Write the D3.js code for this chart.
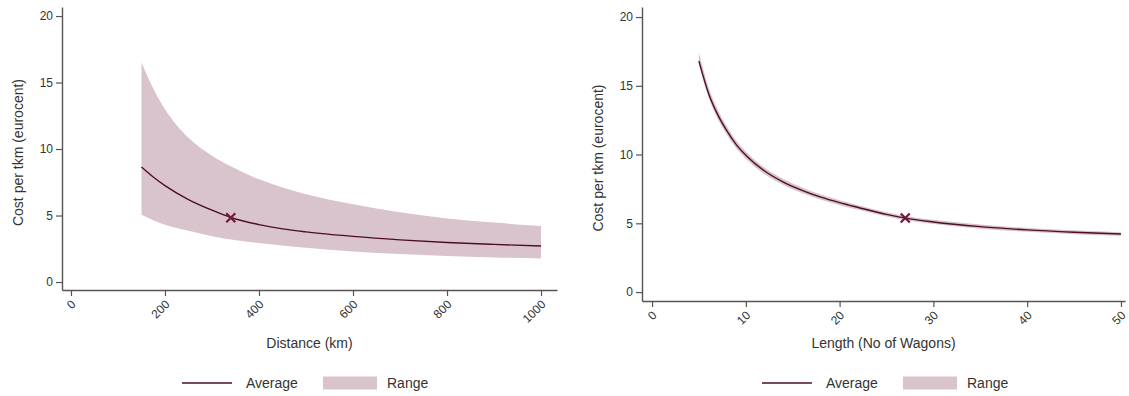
<!DOCTYPE html>
<html>
<head>
<meta charset="utf-8">
<script src="https://cdn.jsdelivr.net/npm/d3@7"></script>
<style>
  html, body { margin: 0; padding: 0; background: #fff; }
  svg { display: block; }
  text { font-family: "Liberation Sans", Arial, sans-serif; fill: #333; }
</style>
</head>
<body>
<svg id="chart" width="1129" height="396"></svg>
<script>
// Cost per tkm by haul distance
const distanceKm     = [150, 175, 200, 250, 300, 340, 400, 450, 500, 600, 700, 800, 900, 1000];
const distanceAvg    = [8.65, 7.9, 7.25, 6.2, 5.4, 4.85, 4.32, 4.0, 3.77, 3.43, 3.17, 2.97, 2.83, 2.71];
const distanceUpper  = [16.5, 14.55, 13.0, 10.85, 9.5, 8.7, 7.72, 7.1, 6.6, 5.85, 5.25, 4.78, 4.47, 4.22];
const distanceLower  = [5.05, 4.65, 4.3, 3.85, 3.45, 3.2, 2.93, 2.75, 2.58, 2.3, 2.1, 1.96, 1.85, 1.77];
const distanceMarker = [340, 4.83];
const distanceTicks  = [0, 200, 400, 600, 800, 1000];

// Cost per tkm by train length
const wagons        = [5, 6, 7, 8, 9, 10, 12, 14, 16, 18, 20, 22, 25, 27, 30, 35, 40, 45, 50];
const wagonsAvg     = [16.8, 14.5, 12.9, 11.7, 10.7, 9.95, 8.8, 8.0, 7.4, 6.9, 6.5, 6.15, 5.65, 5.38, 5.1, 4.76, 4.52, 4.35, 4.22];
const wagonsUpper   = [17.4, 14.95, 13.28, 12.03, 11.0, 10.22, 9.04, 8.22, 7.6, 7.09, 6.68, 6.32, 5.81, 5.54, 5.25, 4.91, 4.66, 4.49, 4.35];
const wagonsLower   = [16.55, 14.2, 12.6, 11.42, 10.44, 9.7, 8.57, 7.79, 7.2, 6.71, 6.32, 5.98, 5.49, 5.22, 4.95, 4.61, 4.38, 4.21, 4.09];
const wagonsMarker  = [27, 5.38];
const wagonsTicks   = [0, 10, 20, 30, 40, 50];

const yTicks = [0, 5, 10, 15, 20];

const lineColor = "#4e0d27";
const bandColor = "#d9c4cd";
const markColor = "#6e1a3e";
const axisColor = "#555";

const svg = d3.select("#chart");

function panel(cfg) {
  const g = svg.append("g");
  const x = d3.scaleLinear().domain(cfg.xDomain).range(cfg.xRange);
  const y = d3.scaleLinear().domain(cfg.yDomain).range(cfg.yRange);

  const rows = cfg.xs.map((v, i) => ({ x: v, avg: cfg.avg[i], lo: cfg.lower[i], hi: cfg.upper[i] }));

  // shaded range
  g.append("path")
    .datum(rows)
    .attr("fill", bandColor)
    .attr("d", d3.area().curve(d3.curveMonotoneX)
      .x(d => x(d.x)).y0(d => y(d.lo)).y1(d => y(d.hi)));

  // average curve
  g.append("path")
    .datum(rows)
    .attr("fill", "none")
    .attr("stroke", lineColor)
    .attr("stroke-width", 1.4)
    .attr("d", d3.line().curve(d3.curveMonotoneX).x(d => x(d.x)).y(d => y(d.avg)));

  // observed point
  const mx = x(cfg.marker[0]), my = y(cfg.marker[1]), s = 4.5;
  g.append("path")
    .attr("d", `M${mx - s},${my - s}L${mx + s},${my + s}M${mx - s},${my + s}L${mx + s},${my - s}`)
    .attr("stroke", markColor)
    .attr("stroke-width", 2.2)
    .attr("fill", "none");

  // x axis
  const xAxis = g.append("g")
    .attr("transform", `translate(0,${cfg.yRange[0]})`)
    .call(d3.axisBottom(x).tickValues(cfg.xTicks).tickFormat(d3.format("d"))
      .tickSize(6).tickSizeOuter(0).tickPadding(3));
  xAxis.select(".domain").attr("stroke", axisColor).attr("stroke-width", 1.4);
  xAxis.selectAll(".tick line").attr("stroke", axisColor).attr("stroke-width", 1.2);
  xAxis.selectAll(".tick text")
    .attr("font-size", 12)
    .attr("fill", "#333")
    .attr("text-anchor", "end")
    .attr("dy", "0.35em")
    .attr("transform", "translate(2,12) rotate(-45)")
    .attr("x", 0).attr("y", 0);

  // y axis
  const yAxis = g.append("g")
    .attr("transform", `translate(${cfg.xRange[0]},0)`)
    .call(d3.axisLeft(y).tickValues(yTicks).tickSize(6).tickSizeOuter(0).tickPadding(3));
  yAxis.select(".domain").attr("stroke", axisColor).attr("stroke-width", 1.4);
  yAxis.selectAll(".tick line").attr("stroke", axisColor).attr("stroke-width", 1.2);
  yAxis.selectAll(".tick text").attr("font-size", 12).attr("fill", "#333");

  // titles
  g.append("text")
    .attr("x", (cfg.xRange[0] + cfg.xRange[1]) / 2)
    .attr("y", 348)
    .attr("text-anchor", "middle")
    .attr("font-size", 14)
    .text(cfg.xTitle);
  g.append("text")
    .attr("transform", `translate(${cfg.yTitleX},${(cfg.yRange[0] + cfg.yRange[1]) / 2 + 4}) rotate(-90)`)
    .attr("text-anchor", "middle")
    .attr("font-size", 14)
    .text("Cost per tkm (eurocent)");

  // legend
  const lg = g.append("g").attr("transform", `translate(${cfg.legendX},383)`);
  lg.append("line").attr("x1", 0).attr("x2", 50).attr("y1", 0).attr("y2", 0)
    .attr("stroke", lineColor).attr("stroke-width", 1.4);
  lg.append("text").attr("x", 64).attr("y", 5).attr("font-size", 14).text("Average");
  lg.append("rect").attr("x", 141).attr("y", -6.5).attr("width", 54).attr("height", 13)
    .attr("fill", bandColor);
  lg.append("text").attr("x", 205).attr("y", 5).attr("font-size", 14).text("Range");
}

panel({
  xs: distanceKm, avg: distanceAvg, upper: distanceUpper, lower: distanceLower,
  marker: distanceMarker, xTicks: distanceTicks,
  xDomain: [-19.1, 1034], xRange: [62, 557],
  yDomain: [-0.6, 20.68], yRange: [290, 7],
  xTitle: "Distance (km)", yTitleX: 23, legendX: 182
});

panel({
  xs: wagons, avg: wagonsAvg, upper: wagonsUpper, lower: wagonsLower,
  marker: wagonsMarker, xTicks: wagonsTicks,
  xDomain: [-1.07, 50.43], xRange: [642, 1125],
  yDomain: [-0.65, 20.73], yRange: [301, 7],
  xTitle: "Length (No of Wagons)", yTitleX: 603, legendX: 762
});
</script>
</body>
</html>
